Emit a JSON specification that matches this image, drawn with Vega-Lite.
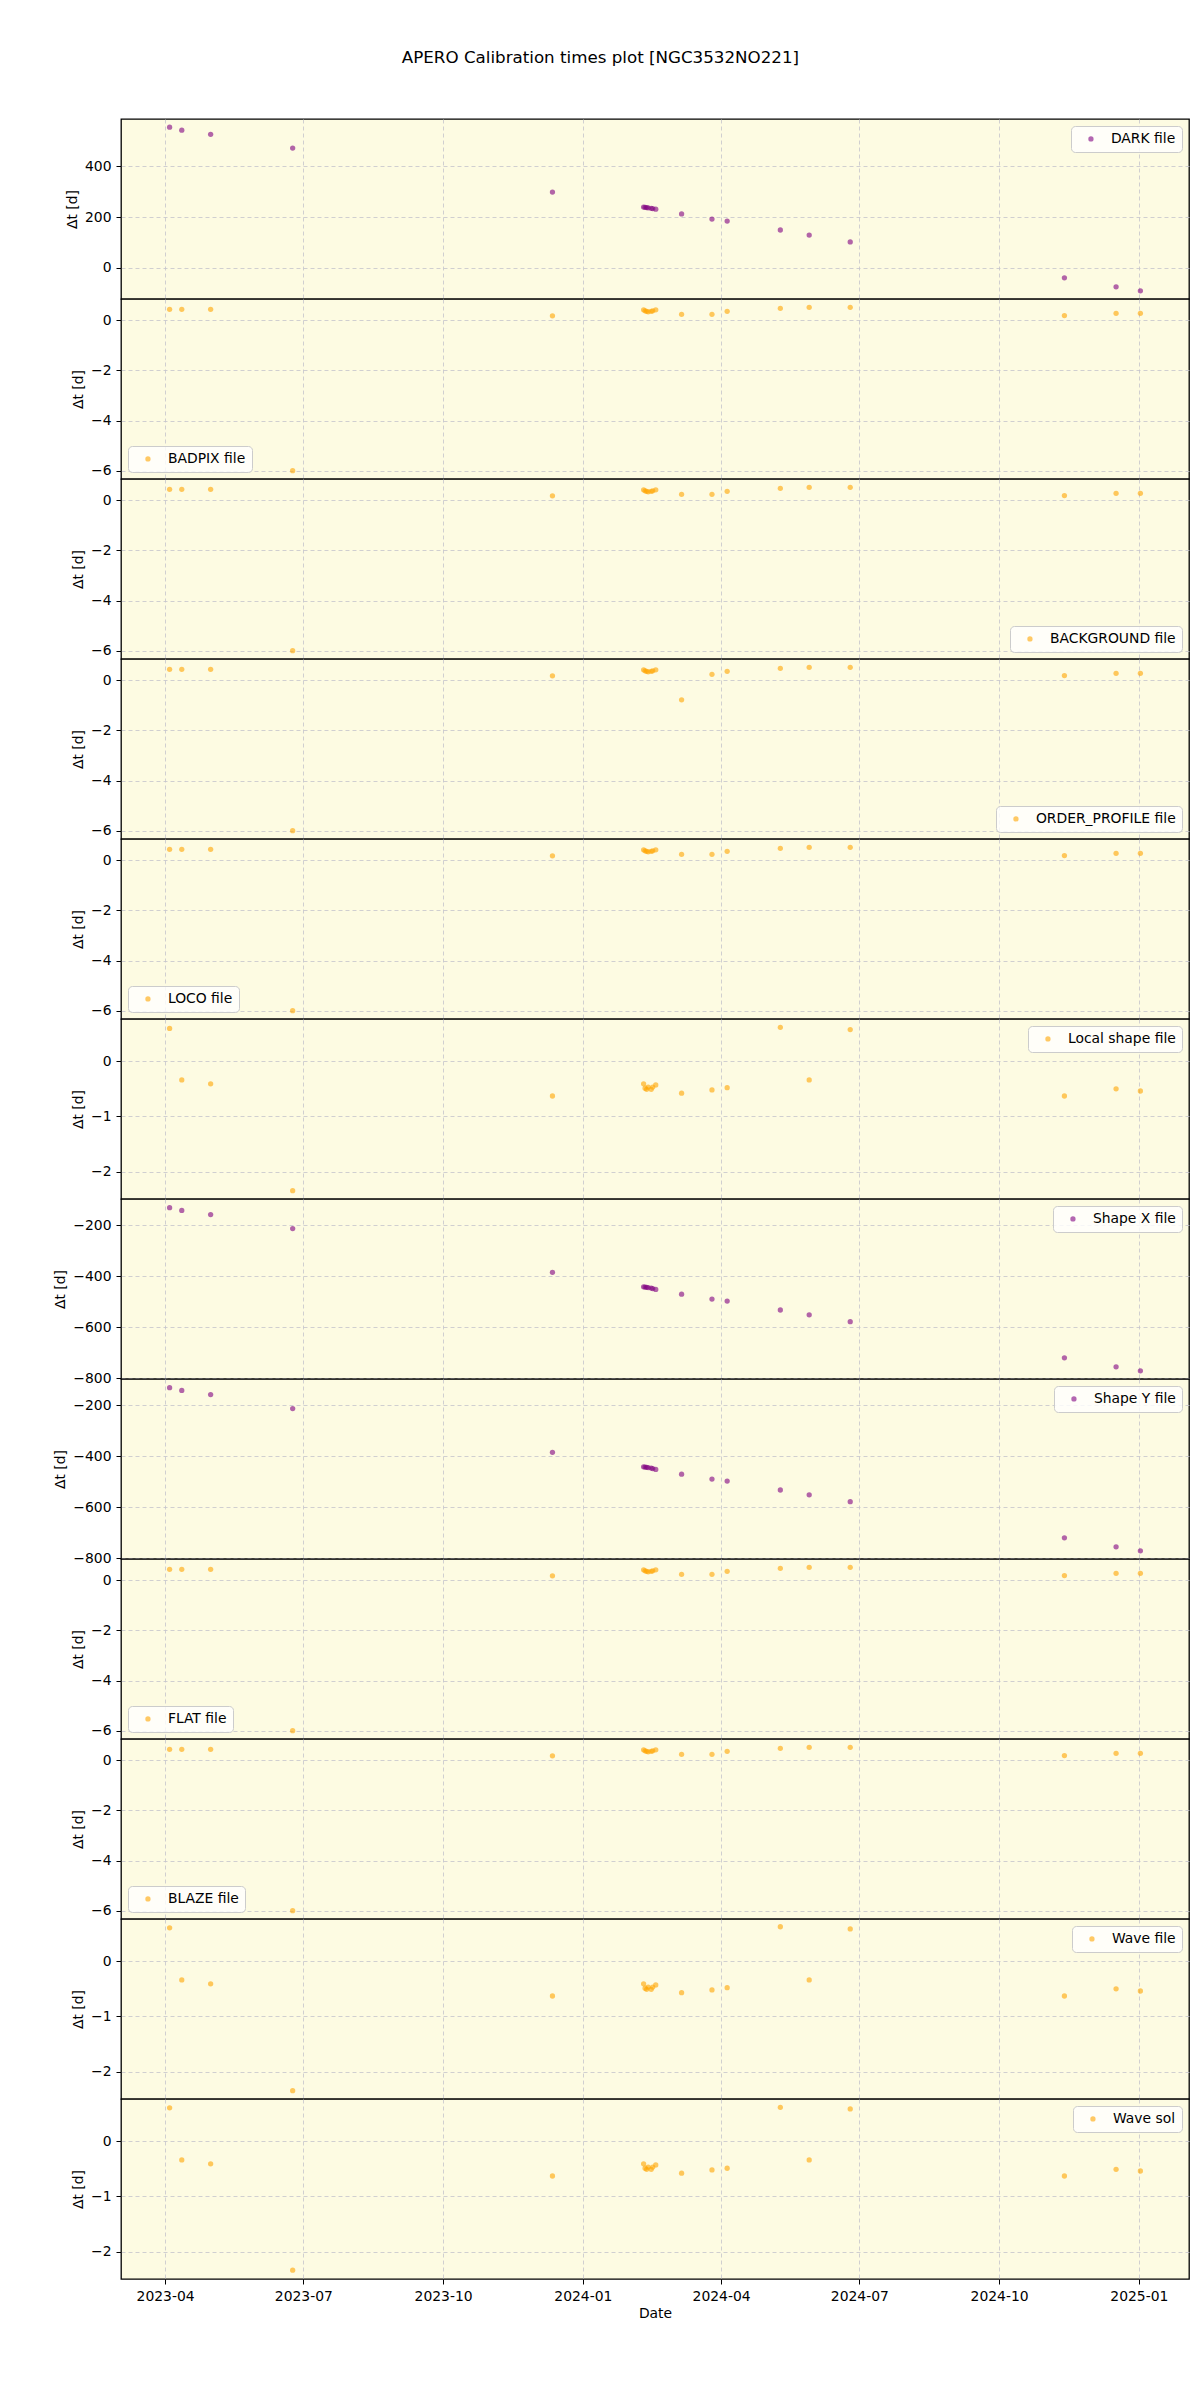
{
  "$schema": "https://vega.github.io/schema/vega-lite/v6.json",
  "background": "white",
  "padding": {"left": 53, "top": 49, "right": 0, "bottom": 0},
  "autosize": {"type": "pad"},
  "title": {"text": "APERO Calibration times plot [NGC3532NO221]", "fontSize": 16.7, "fontWeight": "normal", "font": "DejaVu Sans", "anchor": "middle", "offset": 52, "dx": -21, "color": "#000"},
  "data": {"values": [
    {"file": "DARK file", "date": "2023-04-04", "dt": 553},
    {"file": "DARK file", "date": "2023-04-12", "dt": 541},
    {"file": "DARK file", "date": "2023-05-01", "dt": 525},
    {"file": "DARK file", "date": "2023-06-24", "dt": 471},
    {"file": "DARK file", "date": "2023-12-12", "dt": 298},
    {"file": "DARK file", "date": "2024-02-10", "dt": 239},
    {"file": "DARK file", "date": "2024-02-11", "dt": 238},
    {"file": "DARK file", "date": "2024-02-12", "dt": 237},
    {"file": "DARK file", "date": "2024-02-13", "dt": 236},
    {"file": "DARK file", "date": "2024-02-15", "dt": 234},
    {"file": "DARK file", "date": "2024-02-16", "dt": 233},
    {"file": "DARK file", "date": "2024-02-18", "dt": 231},
    {"file": "DARK file", "date": "2024-03-06", "dt": 212},
    {"file": "DARK file", "date": "2024-03-26", "dt": 192},
    {"file": "DARK file", "date": "2024-04-05", "dt": 184},
    {"file": "DARK file", "date": "2024-05-10", "dt": 149},
    {"file": "DARK file", "date": "2024-05-29", "dt": 129},
    {"file": "DARK file", "date": "2024-06-25", "dt": 102},
    {"file": "DARK file", "date": "2024-11-13", "dt": -39},
    {"file": "DARK file", "date": "2024-12-17", "dt": -74},
    {"file": "DARK file", "date": "2025-01-02", "dt": -90},

    {"file": "BADPIX file", "date": "2023-04-04", "dt": 0.44},
    {"file": "BADPIX file", "date": "2023-04-12", "dt": 0.44},
    {"file": "BADPIX file", "date": "2023-05-01", "dt": 0.44},
    {"file": "BADPIX file", "date": "2023-06-24", "dt": -6.0},
    {"file": "BADPIX file", "date": "2023-12-12", "dt": 0.18},
    {"file": "BADPIX file", "date": "2024-02-10", "dt": 0.42},
    {"file": "BADPIX file", "date": "2024-02-11", "dt": 0.38},
    {"file": "BADPIX file", "date": "2024-02-12", "dt": 0.36},
    {"file": "BADPIX file", "date": "2024-02-13", "dt": 0.34},
    {"file": "BADPIX file", "date": "2024-02-15", "dt": 0.36},
    {"file": "BADPIX file", "date": "2024-02-16", "dt": 0.38},
    {"file": "BADPIX file", "date": "2024-02-18", "dt": 0.42},
    {"file": "BADPIX file", "date": "2024-03-06", "dt": 0.24},
    {"file": "BADPIX file", "date": "2024-03-26", "dt": 0.24},
    {"file": "BADPIX file", "date": "2024-04-05", "dt": 0.36},
    {"file": "BADPIX file", "date": "2024-05-10", "dt": 0.48},
    {"file": "BADPIX file", "date": "2024-05-29", "dt": 0.52},
    {"file": "BADPIX file", "date": "2024-06-25", "dt": 0.52},
    {"file": "BADPIX file", "date": "2024-11-13", "dt": 0.19},
    {"file": "BADPIX file", "date": "2024-12-17", "dt": 0.28},
    {"file": "BADPIX file", "date": "2025-01-02", "dt": 0.28},

    {"file": "BACKGROUND file", "date": "2023-04-04", "dt": 0.44},
    {"file": "BACKGROUND file", "date": "2023-04-12", "dt": 0.44},
    {"file": "BACKGROUND file", "date": "2023-05-01", "dt": 0.44},
    {"file": "BACKGROUND file", "date": "2023-06-24", "dt": -6.0},
    {"file": "BACKGROUND file", "date": "2023-12-12", "dt": 0.18},
    {"file": "BACKGROUND file", "date": "2024-02-10", "dt": 0.42},
    {"file": "BACKGROUND file", "date": "2024-02-11", "dt": 0.38},
    {"file": "BACKGROUND file", "date": "2024-02-12", "dt": 0.36},
    {"file": "BACKGROUND file", "date": "2024-02-13", "dt": 0.34},
    {"file": "BACKGROUND file", "date": "2024-02-15", "dt": 0.36},
    {"file": "BACKGROUND file", "date": "2024-02-16", "dt": 0.38},
    {"file": "BACKGROUND file", "date": "2024-02-18", "dt": 0.42},
    {"file": "BACKGROUND file", "date": "2024-03-06", "dt": 0.24},
    {"file": "BACKGROUND file", "date": "2024-03-26", "dt": 0.24},
    {"file": "BACKGROUND file", "date": "2024-04-05", "dt": 0.36},
    {"file": "BACKGROUND file", "date": "2024-05-10", "dt": 0.48},
    {"file": "BACKGROUND file", "date": "2024-05-29", "dt": 0.52},
    {"file": "BACKGROUND file", "date": "2024-06-25", "dt": 0.52},
    {"file": "BACKGROUND file", "date": "2024-11-13", "dt": 0.19},
    {"file": "BACKGROUND file", "date": "2024-12-17", "dt": 0.28},
    {"file": "BACKGROUND file", "date": "2025-01-02", "dt": 0.28},

    {"file": "ORDER_PROFILE file", "date": "2023-04-04", "dt": 0.44},
    {"file": "ORDER_PROFILE file", "date": "2023-04-12", "dt": 0.44},
    {"file": "ORDER_PROFILE file", "date": "2023-05-01", "dt": 0.44},
    {"file": "ORDER_PROFILE file", "date": "2023-06-24", "dt": -6.0},
    {"file": "ORDER_PROFILE file", "date": "2023-12-12", "dt": 0.18},
    {"file": "ORDER_PROFILE file", "date": "2024-02-10", "dt": 0.42},
    {"file": "ORDER_PROFILE file", "date": "2024-02-11", "dt": 0.38},
    {"file": "ORDER_PROFILE file", "date": "2024-02-12", "dt": 0.36},
    {"file": "ORDER_PROFILE file", "date": "2024-02-13", "dt": 0.34},
    {"file": "ORDER_PROFILE file", "date": "2024-02-15", "dt": 0.36},
    {"file": "ORDER_PROFILE file", "date": "2024-02-16", "dt": 0.38},
    {"file": "ORDER_PROFILE file", "date": "2024-02-18", "dt": 0.42},
    {"file": "ORDER_PROFILE file", "date": "2024-03-06", "dt": -0.78},
    {"file": "ORDER_PROFILE file", "date": "2024-03-26", "dt": 0.24},
    {"file": "ORDER_PROFILE file", "date": "2024-04-05", "dt": 0.36},
    {"file": "ORDER_PROFILE file", "date": "2024-05-10", "dt": 0.48},
    {"file": "ORDER_PROFILE file", "date": "2024-05-29", "dt": 0.52},
    {"file": "ORDER_PROFILE file", "date": "2024-06-25", "dt": 0.52},
    {"file": "ORDER_PROFILE file", "date": "2024-11-13", "dt": 0.19},
    {"file": "ORDER_PROFILE file", "date": "2024-12-17", "dt": 0.28},
    {"file": "ORDER_PROFILE file", "date": "2025-01-02", "dt": 0.28},

    {"file": "LOCO file", "date": "2023-04-04", "dt": 0.44},
    {"file": "LOCO file", "date": "2023-04-12", "dt": 0.44},
    {"file": "LOCO file", "date": "2023-05-01", "dt": 0.44},
    {"file": "LOCO file", "date": "2023-06-24", "dt": -6.0},
    {"file": "LOCO file", "date": "2023-12-12", "dt": 0.18},
    {"file": "LOCO file", "date": "2024-02-10", "dt": 0.42},
    {"file": "LOCO file", "date": "2024-02-11", "dt": 0.38},
    {"file": "LOCO file", "date": "2024-02-12", "dt": 0.36},
    {"file": "LOCO file", "date": "2024-02-13", "dt": 0.34},
    {"file": "LOCO file", "date": "2024-02-15", "dt": 0.36},
    {"file": "LOCO file", "date": "2024-02-16", "dt": 0.38},
    {"file": "LOCO file", "date": "2024-02-18", "dt": 0.42},
    {"file": "LOCO file", "date": "2024-03-06", "dt": 0.24},
    {"file": "LOCO file", "date": "2024-03-26", "dt": 0.24},
    {"file": "LOCO file", "date": "2024-04-05", "dt": 0.36},
    {"file": "LOCO file", "date": "2024-05-10", "dt": 0.48},
    {"file": "LOCO file", "date": "2024-05-29", "dt": 0.52},
    {"file": "LOCO file", "date": "2024-06-25", "dt": 0.52},
    {"file": "LOCO file", "date": "2024-11-13", "dt": 0.19},
    {"file": "LOCO file", "date": "2024-12-17", "dt": 0.28},
    {"file": "LOCO file", "date": "2025-01-02", "dt": 0.28},

    {"file": "Local shape file", "date": "2023-04-04", "dt": 0.59},
    {"file": "Local shape file", "date": "2023-04-12", "dt": -0.34},
    {"file": "Local shape file", "date": "2023-05-01", "dt": -0.41},
    {"file": "Local shape file", "date": "2023-06-24", "dt": -2.34},
    {"file": "Local shape file", "date": "2023-12-12", "dt": -0.63},
    {"file": "Local shape file", "date": "2024-02-10", "dt": -0.41},
    {"file": "Local shape file", "date": "2024-02-11", "dt": -0.49},
    {"file": "Local shape file", "date": "2024-02-12", "dt": -0.51},
    {"file": "Local shape file", "date": "2024-02-13", "dt": -0.47},
    {"file": "Local shape file", "date": "2024-02-15", "dt": -0.51},
    {"file": "Local shape file", "date": "2024-02-16", "dt": -0.47},
    {"file": "Local shape file", "date": "2024-02-18", "dt": -0.43},
    {"file": "Local shape file", "date": "2024-03-06", "dt": -0.58},
    {"file": "Local shape file", "date": "2024-03-26", "dt": -0.52},
    {"file": "Local shape file", "date": "2024-04-05", "dt": -0.48},
    {"file": "Local shape file", "date": "2024-05-10", "dt": 0.61},
    {"file": "Local shape file", "date": "2024-05-29", "dt": -0.34},
    {"file": "Local shape file", "date": "2024-06-25", "dt": 0.57},
    {"file": "Local shape file", "date": "2024-11-13", "dt": -0.63},
    {"file": "Local shape file", "date": "2024-12-17", "dt": -0.50},
    {"file": "Local shape file", "date": "2025-01-02", "dt": -0.54},

    {"file": "Shape X file", "date": "2023-04-04", "dt": -130},
    {"file": "Shape X file", "date": "2023-04-12", "dt": -141},
    {"file": "Shape X file", "date": "2023-05-01", "dt": -157},
    {"file": "Shape X file", "date": "2023-06-24", "dt": -212},
    {"file": "Shape X file", "date": "2023-12-12", "dt": -384},
    {"file": "Shape X file", "date": "2024-02-10", "dt": -441},
    {"file": "Shape X file", "date": "2024-02-11", "dt": -442},
    {"file": "Shape X file", "date": "2024-02-12", "dt": -443},
    {"file": "Shape X file", "date": "2024-02-13", "dt": -444},
    {"file": "Shape X file", "date": "2024-02-15", "dt": -446},
    {"file": "Shape X file", "date": "2024-02-16", "dt": -448},
    {"file": "Shape X file", "date": "2024-02-18", "dt": -451},
    {"file": "Shape X file", "date": "2024-03-06", "dt": -470},
    {"file": "Shape X file", "date": "2024-03-26", "dt": -489},
    {"file": "Shape X file", "date": "2024-04-05", "dt": -497},
    {"file": "Shape X file", "date": "2024-05-10", "dt": -532},
    {"file": "Shape X file", "date": "2024-05-29", "dt": -551},
    {"file": "Shape X file", "date": "2024-06-25", "dt": -578},
    {"file": "Shape X file", "date": "2024-11-13", "dt": -720},
    {"file": "Shape X file", "date": "2024-12-17", "dt": -755},
    {"file": "Shape X file", "date": "2025-01-02", "dt": -771},

    {"file": "Shape Y file", "date": "2023-04-04", "dt": -130},
    {"file": "Shape Y file", "date": "2023-04-12", "dt": -141},
    {"file": "Shape Y file", "date": "2023-05-01", "dt": -157},
    {"file": "Shape Y file", "date": "2023-06-24", "dt": -212},
    {"file": "Shape Y file", "date": "2023-12-12", "dt": -384},
    {"file": "Shape Y file", "date": "2024-02-10", "dt": -441},
    {"file": "Shape Y file", "date": "2024-02-11", "dt": -442},
    {"file": "Shape Y file", "date": "2024-02-12", "dt": -443},
    {"file": "Shape Y file", "date": "2024-02-13", "dt": -444},
    {"file": "Shape Y file", "date": "2024-02-15", "dt": -446},
    {"file": "Shape Y file", "date": "2024-02-16", "dt": -448},
    {"file": "Shape Y file", "date": "2024-02-18", "dt": -451},
    {"file": "Shape Y file", "date": "2024-03-06", "dt": -470},
    {"file": "Shape Y file", "date": "2024-03-26", "dt": -489},
    {"file": "Shape Y file", "date": "2024-04-05", "dt": -497},
    {"file": "Shape Y file", "date": "2024-05-10", "dt": -532},
    {"file": "Shape Y file", "date": "2024-05-29", "dt": -551},
    {"file": "Shape Y file", "date": "2024-06-25", "dt": -578},
    {"file": "Shape Y file", "date": "2024-11-13", "dt": -720},
    {"file": "Shape Y file", "date": "2024-12-17", "dt": -755},
    {"file": "Shape Y file", "date": "2025-01-02", "dt": -771},

    {"file": "FLAT file", "date": "2023-04-04", "dt": 0.44},
    {"file": "FLAT file", "date": "2023-04-12", "dt": 0.44},
    {"file": "FLAT file", "date": "2023-05-01", "dt": 0.44},
    {"file": "FLAT file", "date": "2023-06-24", "dt": -6.0},
    {"file": "FLAT file", "date": "2023-12-12", "dt": 0.18},
    {"file": "FLAT file", "date": "2024-02-10", "dt": 0.42},
    {"file": "FLAT file", "date": "2024-02-11", "dt": 0.38},
    {"file": "FLAT file", "date": "2024-02-12", "dt": 0.36},
    {"file": "FLAT file", "date": "2024-02-13", "dt": 0.34},
    {"file": "FLAT file", "date": "2024-02-15", "dt": 0.36},
    {"file": "FLAT file", "date": "2024-02-16", "dt": 0.38},
    {"file": "FLAT file", "date": "2024-02-18", "dt": 0.42},
    {"file": "FLAT file", "date": "2024-03-06", "dt": 0.24},
    {"file": "FLAT file", "date": "2024-03-26", "dt": 0.24},
    {"file": "FLAT file", "date": "2024-04-05", "dt": 0.36},
    {"file": "FLAT file", "date": "2024-05-10", "dt": 0.48},
    {"file": "FLAT file", "date": "2024-05-29", "dt": 0.52},
    {"file": "FLAT file", "date": "2024-06-25", "dt": 0.52},
    {"file": "FLAT file", "date": "2024-11-13", "dt": 0.19},
    {"file": "FLAT file", "date": "2024-12-17", "dt": 0.28},
    {"file": "FLAT file", "date": "2025-01-02", "dt": 0.28},

    {"file": "BLAZE file", "date": "2023-04-04", "dt": 0.44},
    {"file": "BLAZE file", "date": "2023-04-12", "dt": 0.44},
    {"file": "BLAZE file", "date": "2023-05-01", "dt": 0.44},
    {"file": "BLAZE file", "date": "2023-06-24", "dt": -6.0},
    {"file": "BLAZE file", "date": "2023-12-12", "dt": 0.18},
    {"file": "BLAZE file", "date": "2024-02-10", "dt": 0.42},
    {"file": "BLAZE file", "date": "2024-02-11", "dt": 0.38},
    {"file": "BLAZE file", "date": "2024-02-12", "dt": 0.36},
    {"file": "BLAZE file", "date": "2024-02-13", "dt": 0.34},
    {"file": "BLAZE file", "date": "2024-02-15", "dt": 0.36},
    {"file": "BLAZE file", "date": "2024-02-16", "dt": 0.38},
    {"file": "BLAZE file", "date": "2024-02-18", "dt": 0.42},
    {"file": "BLAZE file", "date": "2024-03-06", "dt": 0.24},
    {"file": "BLAZE file", "date": "2024-03-26", "dt": 0.24},
    {"file": "BLAZE file", "date": "2024-04-05", "dt": 0.36},
    {"file": "BLAZE file", "date": "2024-05-10", "dt": 0.48},
    {"file": "BLAZE file", "date": "2024-05-29", "dt": 0.52},
    {"file": "BLAZE file", "date": "2024-06-25", "dt": 0.52},
    {"file": "BLAZE file", "date": "2024-11-13", "dt": 0.19},
    {"file": "BLAZE file", "date": "2024-12-17", "dt": 0.28},
    {"file": "BLAZE file", "date": "2025-01-02", "dt": 0.28},

    {"file": "Wave file", "date": "2023-04-04", "dt": 0.60},
    {"file": "Wave file", "date": "2023-04-12", "dt": -0.34},
    {"file": "Wave file", "date": "2023-05-01", "dt": -0.41},
    {"file": "Wave file", "date": "2023-06-24", "dt": -2.34},
    {"file": "Wave file", "date": "2023-12-12", "dt": -0.63},
    {"file": "Wave file", "date": "2024-02-10", "dt": -0.41},
    {"file": "Wave file", "date": "2024-02-11", "dt": -0.49},
    {"file": "Wave file", "date": "2024-02-12", "dt": -0.51},
    {"file": "Wave file", "date": "2024-02-13", "dt": -0.47},
    {"file": "Wave file", "date": "2024-02-15", "dt": -0.51},
    {"file": "Wave file", "date": "2024-02-16", "dt": -0.47},
    {"file": "Wave file", "date": "2024-02-18", "dt": -0.43},
    {"file": "Wave file", "date": "2024-03-06", "dt": -0.57},
    {"file": "Wave file", "date": "2024-03-26", "dt": -0.52},
    {"file": "Wave file", "date": "2024-04-05", "dt": -0.48},
    {"file": "Wave file", "date": "2024-05-10", "dt": 0.62},
    {"file": "Wave file", "date": "2024-05-29", "dt": -0.34},
    {"file": "Wave file", "date": "2024-06-25", "dt": 0.58},
    {"file": "Wave file", "date": "2024-11-13", "dt": -0.63},
    {"file": "Wave file", "date": "2024-12-17", "dt": -0.50},
    {"file": "Wave file", "date": "2025-01-02", "dt": -0.54},

    {"file": "Wave sol", "date": "2023-04-04", "dt": 0.60},
    {"file": "Wave sol", "date": "2023-04-12", "dt": -0.34},
    {"file": "Wave sol", "date": "2023-05-01", "dt": -0.41},
    {"file": "Wave sol", "date": "2023-06-24", "dt": -2.33},
    {"file": "Wave sol", "date": "2023-12-12", "dt": -0.63},
    {"file": "Wave sol", "date": "2024-02-10", "dt": -0.41},
    {"file": "Wave sol", "date": "2024-02-11", "dt": -0.49},
    {"file": "Wave sol", "date": "2024-02-12", "dt": -0.51},
    {"file": "Wave sol", "date": "2024-02-13", "dt": -0.47},
    {"file": "Wave sol", "date": "2024-02-15", "dt": -0.51},
    {"file": "Wave sol", "date": "2024-02-16", "dt": -0.47},
    {"file": "Wave sol", "date": "2024-02-18", "dt": -0.43},
    {"file": "Wave sol", "date": "2024-03-06", "dt": -0.58},
    {"file": "Wave sol", "date": "2024-03-26", "dt": -0.52},
    {"file": "Wave sol", "date": "2024-04-05", "dt": -0.49},
    {"file": "Wave sol", "date": "2024-05-10", "dt": 0.61},
    {"file": "Wave sol", "date": "2024-05-29", "dt": -0.34},
    {"file": "Wave sol", "date": "2024-06-25", "dt": 0.58},
    {"file": "Wave sol", "date": "2024-11-13", "dt": -0.63},
    {"file": "Wave sol", "date": "2024-12-17", "dt": -0.51},
    {"file": "Wave sol", "date": "2025-01-02", "dt": -0.54}
  ]},
  "spacing": 0,
  "bounds": "flush",
  "resolve": {"scale": {"x": "independent", "y": "independent", "color": "independent"}, "legend": {"color": "independent"}},
  "vconcat": [
    {"width": 1068, "height": 180,
     "transform": [{"filter": {"field": "file", "equal": "DARK file"}}],
     "mark": {"type": "point", "filled": true, "size": 28, "opacity": 0.6},
     "encoding": {
       "x": {"field": "date", "type": "temporal", "scale": {"type": "utc", "domain": [{"year": 2023, "month": 3, "date": 3, "utc": true}, {"year": 2025, "month": 2, "date": 3, "utc": true}]},
             "axis": {"values": [{"year": 2023, "month": 4, "date": 1, "utc": true}, {"year": 2023, "month": 7, "date": 1, "utc": true}, {"year": 2023, "month": 10, "date": 1, "utc": true}, {"year": 2024, "month": 1, "date": 1, "utc": true}, {"year": 2024, "month": 4, "date": 1, "utc": true}, {"year": 2024, "month": 7, "date": 1, "utc": true}, {"year": 2024, "month": 10, "date": 1, "utc": true}, {"year": 2025, "month": 1, "date": 1, "utc": true}], "labels": false, "ticks": false, "title": null, "tickSize": 0, "labelPadding": 0, "minExtent": 0, "maxExtent": 0}},
       "y": {"field": "dt", "type": "quantitative", "scale": {"domain": [-122, 585], "nice": false, "zero": false}, "axis": {"title": "Δt [d]", "values": [0, 200, 400]}},
       "color": {"field": "file", "type": "nominal", "scale": {"range": ["purple"]}, "legend": {"orient": "top-right", "title": null}}
     }},
    {"width": 1068, "height": 180,
     "transform": [{"filter": {"field": "file", "equal": "BADPIX file"}}],
     "mark": {"type": "point", "filled": true, "size": 28, "opacity": 0.6},
     "encoding": {
       "x": {"field": "date", "type": "temporal", "scale": {"type": "utc", "domain": [{"year": 2023, "month": 3, "date": 3, "utc": true}, {"year": 2025, "month": 2, "date": 3, "utc": true}]},
             "axis": {"values": [{"year": 2023, "month": 4, "date": 1, "utc": true}, {"year": 2023, "month": 7, "date": 1, "utc": true}, {"year": 2023, "month": 10, "date": 1, "utc": true}, {"year": 2024, "month": 1, "date": 1, "utc": true}, {"year": 2024, "month": 4, "date": 1, "utc": true}, {"year": 2024, "month": 7, "date": 1, "utc": true}, {"year": 2024, "month": 10, "date": 1, "utc": true}, {"year": 2025, "month": 1, "date": 1, "utc": true}], "labels": false, "ticks": false, "title": null, "tickSize": 0, "labelPadding": 0, "minExtent": 0, "maxExtent": 0}},
       "y": {"field": "dt", "type": "quantitative", "scale": {"domain": [-6.33, 0.85], "nice": false, "zero": false}, "axis": {"title": "Δt [d]", "values": [-6, -4, -2, 0]}},
       "color": {"field": "file", "type": "nominal", "scale": {"range": ["orange"]}, "legend": {"orient": "bottom-left", "title": null}}
     }},
    {"width": 1068, "height": 180,
     "transform": [{"filter": {"field": "file", "equal": "BACKGROUND file"}}],
     "mark": {"type": "point", "filled": true, "size": 28, "opacity": 0.6},
     "encoding": {
       "x": {"field": "date", "type": "temporal", "scale": {"type": "utc", "domain": [{"year": 2023, "month": 3, "date": 3, "utc": true}, {"year": 2025, "month": 2, "date": 3, "utc": true}]},
             "axis": {"values": [{"year": 2023, "month": 4, "date": 1, "utc": true}, {"year": 2023, "month": 7, "date": 1, "utc": true}, {"year": 2023, "month": 10, "date": 1, "utc": true}, {"year": 2024, "month": 1, "date": 1, "utc": true}, {"year": 2024, "month": 4, "date": 1, "utc": true}, {"year": 2024, "month": 7, "date": 1, "utc": true}, {"year": 2024, "month": 10, "date": 1, "utc": true}, {"year": 2025, "month": 1, "date": 1, "utc": true}], "labels": false, "ticks": false, "title": null, "tickSize": 0, "labelPadding": 0, "minExtent": 0, "maxExtent": 0}},
       "y": {"field": "dt", "type": "quantitative", "scale": {"domain": [-6.33, 0.85], "nice": false, "zero": false}, "axis": {"title": "Δt [d]", "values": [-6, -4, -2, 0]}},
       "color": {"field": "file", "type": "nominal", "scale": {"range": ["orange"]}, "legend": {"orient": "bottom-right", "title": null}}
     }},
    {"width": 1068, "height": 180,
     "transform": [{"filter": {"field": "file", "equal": "ORDER_PROFILE file"}}],
     "mark": {"type": "point", "filled": true, "size": 28, "opacity": 0.6},
     "encoding": {
       "x": {"field": "date", "type": "temporal", "scale": {"type": "utc", "domain": [{"year": 2023, "month": 3, "date": 3, "utc": true}, {"year": 2025, "month": 2, "date": 3, "utc": true}]},
             "axis": {"values": [{"year": 2023, "month": 4, "date": 1, "utc": true}, {"year": 2023, "month": 7, "date": 1, "utc": true}, {"year": 2023, "month": 10, "date": 1, "utc": true}, {"year": 2024, "month": 1, "date": 1, "utc": true}, {"year": 2024, "month": 4, "date": 1, "utc": true}, {"year": 2024, "month": 7, "date": 1, "utc": true}, {"year": 2024, "month": 10, "date": 1, "utc": true}, {"year": 2025, "month": 1, "date": 1, "utc": true}], "labels": false, "ticks": false, "title": null, "tickSize": 0, "labelPadding": 0, "minExtent": 0, "maxExtent": 0}},
       "y": {"field": "dt", "type": "quantitative", "scale": {"domain": [-6.33, 0.85], "nice": false, "zero": false}, "axis": {"title": "Δt [d]", "values": [-6, -4, -2, 0]}},
       "color": {"field": "file", "type": "nominal", "scale": {"range": ["orange"]}, "legend": {"orient": "bottom-right", "title": null}}
     }},
    {"width": 1068, "height": 180,
     "transform": [{"filter": {"field": "file", "equal": "LOCO file"}}],
     "mark": {"type": "point", "filled": true, "size": 28, "opacity": 0.6},
     "encoding": {
       "x": {"field": "date", "type": "temporal", "scale": {"type": "utc", "domain": [{"year": 2023, "month": 3, "date": 3, "utc": true}, {"year": 2025, "month": 2, "date": 3, "utc": true}]},
             "axis": {"values": [{"year": 2023, "month": 4, "date": 1, "utc": true}, {"year": 2023, "month": 7, "date": 1, "utc": true}, {"year": 2023, "month": 10, "date": 1, "utc": true}, {"year": 2024, "month": 1, "date": 1, "utc": true}, {"year": 2024, "month": 4, "date": 1, "utc": true}, {"year": 2024, "month": 7, "date": 1, "utc": true}, {"year": 2024, "month": 10, "date": 1, "utc": true}, {"year": 2025, "month": 1, "date": 1, "utc": true}], "labels": false, "ticks": false, "title": null, "tickSize": 0, "labelPadding": 0, "minExtent": 0, "maxExtent": 0}},
       "y": {"field": "dt", "type": "quantitative", "scale": {"domain": [-6.33, 0.85], "nice": false, "zero": false}, "axis": {"title": "Δt [d]", "values": [-6, -4, -2, 0]}},
       "color": {"field": "file", "type": "nominal", "scale": {"range": ["orange"]}, "legend": {"orient": "bottom-left", "title": null}}
     }},
    {"width": 1068, "height": 180,
     "transform": [{"filter": {"field": "file", "equal": "Local shape file"}}],
     "mark": {"type": "point", "filled": true, "size": 28, "opacity": 0.6},
     "encoding": {
       "x": {"field": "date", "type": "temporal", "scale": {"type": "utc", "domain": [{"year": 2023, "month": 3, "date": 3, "utc": true}, {"year": 2025, "month": 2, "date": 3, "utc": true}]},
             "axis": {"values": [{"year": 2023, "month": 4, "date": 1, "utc": true}, {"year": 2023, "month": 7, "date": 1, "utc": true}, {"year": 2023, "month": 10, "date": 1, "utc": true}, {"year": 2024, "month": 1, "date": 1, "utc": true}, {"year": 2024, "month": 4, "date": 1, "utc": true}, {"year": 2024, "month": 7, "date": 1, "utc": true}, {"year": 2024, "month": 10, "date": 1, "utc": true}, {"year": 2025, "month": 1, "date": 1, "utc": true}], "labels": false, "ticks": false, "title": null, "tickSize": 0, "labelPadding": 0, "minExtent": 0, "maxExtent": 0}},
       "y": {"field": "dt", "type": "quantitative", "scale": {"domain": [-2.49, 0.76], "nice": false, "zero": false}, "axis": {"title": "Δt [d]", "values": [-2, -1, 0]}},
       "color": {"field": "file", "type": "nominal", "scale": {"range": ["orange"]}, "legend": {"orient": "top-right", "title": null}}
     }},
    {"width": 1068, "height": 180,
     "transform": [{"filter": {"field": "file", "equal": "Shape X file"}}],
     "mark": {"type": "point", "filled": true, "size": 28, "opacity": 0.6},
     "encoding": {
       "x": {"field": "date", "type": "temporal", "scale": {"type": "utc", "domain": [{"year": 2023, "month": 3, "date": 3, "utc": true}, {"year": 2025, "month": 2, "date": 3, "utc": true}]},
             "axis": {"values": [{"year": 2023, "month": 4, "date": 1, "utc": true}, {"year": 2023, "month": 7, "date": 1, "utc": true}, {"year": 2023, "month": 10, "date": 1, "utc": true}, {"year": 2024, "month": 1, "date": 1, "utc": true}, {"year": 2024, "month": 4, "date": 1, "utc": true}, {"year": 2024, "month": 7, "date": 1, "utc": true}, {"year": 2024, "month": 10, "date": 1, "utc": true}, {"year": 2025, "month": 1, "date": 1, "utc": true}], "labels": false, "ticks": false, "title": null, "tickSize": 0, "labelPadding": 0, "minExtent": 0, "maxExtent": 0}},
       "y": {"field": "dt", "type": "quantitative", "scale": {"domain": [-803, -96], "nice": false, "zero": false}, "axis": {"title": "Δt [d]", "values": [-800, -600, -400, -200]}},
       "color": {"field": "file", "type": "nominal", "scale": {"range": ["purple"]}, "legend": {"orient": "top-right", "title": null}}
     }},
    {"width": 1068, "height": 180,
     "transform": [{"filter": {"field": "file", "equal": "Shape Y file"}}],
     "mark": {"type": "point", "filled": true, "size": 28, "opacity": 0.6},
     "encoding": {
       "x": {"field": "date", "type": "temporal", "scale": {"type": "utc", "domain": [{"year": 2023, "month": 3, "date": 3, "utc": true}, {"year": 2025, "month": 2, "date": 3, "utc": true}]},
             "axis": {"values": [{"year": 2023, "month": 4, "date": 1, "utc": true}, {"year": 2023, "month": 7, "date": 1, "utc": true}, {"year": 2023, "month": 10, "date": 1, "utc": true}, {"year": 2024, "month": 1, "date": 1, "utc": true}, {"year": 2024, "month": 4, "date": 1, "utc": true}, {"year": 2024, "month": 7, "date": 1, "utc": true}, {"year": 2024, "month": 10, "date": 1, "utc": true}, {"year": 2025, "month": 1, "date": 1, "utc": true}], "labels": false, "ticks": false, "title": null, "tickSize": 0, "labelPadding": 0, "minExtent": 0, "maxExtent": 0}},
       "y": {"field": "dt", "type": "quantitative", "scale": {"domain": [-803, -96], "nice": false, "zero": false}, "axis": {"title": "Δt [d]", "values": [-800, -600, -400, -200]}},
       "color": {"field": "file", "type": "nominal", "scale": {"range": ["purple"]}, "legend": {"orient": "top-right", "title": null}}
     }},
    {"width": 1068, "height": 180,
     "transform": [{"filter": {"field": "file", "equal": "FLAT file"}}],
     "mark": {"type": "point", "filled": true, "size": 28, "opacity": 0.6},
     "encoding": {
       "x": {"field": "date", "type": "temporal", "scale": {"type": "utc", "domain": [{"year": 2023, "month": 3, "date": 3, "utc": true}, {"year": 2025, "month": 2, "date": 3, "utc": true}]},
             "axis": {"values": [{"year": 2023, "month": 4, "date": 1, "utc": true}, {"year": 2023, "month": 7, "date": 1, "utc": true}, {"year": 2023, "month": 10, "date": 1, "utc": true}, {"year": 2024, "month": 1, "date": 1, "utc": true}, {"year": 2024, "month": 4, "date": 1, "utc": true}, {"year": 2024, "month": 7, "date": 1, "utc": true}, {"year": 2024, "month": 10, "date": 1, "utc": true}, {"year": 2025, "month": 1, "date": 1, "utc": true}], "labels": false, "ticks": false, "title": null, "tickSize": 0, "labelPadding": 0, "minExtent": 0, "maxExtent": 0}},
       "y": {"field": "dt", "type": "quantitative", "scale": {"domain": [-6.33, 0.85], "nice": false, "zero": false}, "axis": {"title": "Δt [d]", "values": [-6, -4, -2, 0]}},
       "color": {"field": "file", "type": "nominal", "scale": {"range": ["orange"]}, "legend": {"orient": "bottom-left", "title": null}}
     }},
    {"width": 1068, "height": 180,
     "transform": [{"filter": {"field": "file", "equal": "BLAZE file"}}],
     "mark": {"type": "point", "filled": true, "size": 28, "opacity": 0.6},
     "encoding": {
       "x": {"field": "date", "type": "temporal", "scale": {"type": "utc", "domain": [{"year": 2023, "month": 3, "date": 3, "utc": true}, {"year": 2025, "month": 2, "date": 3, "utc": true}]},
             "axis": {"values": [{"year": 2023, "month": 4, "date": 1, "utc": true}, {"year": 2023, "month": 7, "date": 1, "utc": true}, {"year": 2023, "month": 10, "date": 1, "utc": true}, {"year": 2024, "month": 1, "date": 1, "utc": true}, {"year": 2024, "month": 4, "date": 1, "utc": true}, {"year": 2024, "month": 7, "date": 1, "utc": true}, {"year": 2024, "month": 10, "date": 1, "utc": true}, {"year": 2025, "month": 1, "date": 1, "utc": true}], "labels": false, "ticks": false, "title": null, "tickSize": 0, "labelPadding": 0, "minExtent": 0, "maxExtent": 0}},
       "y": {"field": "dt", "type": "quantitative", "scale": {"domain": [-6.33, 0.85], "nice": false, "zero": false}, "axis": {"title": "Δt [d]", "values": [-6, -4, -2, 0]}},
       "color": {"field": "file", "type": "nominal", "scale": {"range": ["orange"]}, "legend": {"orient": "bottom-left", "title": null}}
     }},
    {"width": 1068, "height": 180,
     "transform": [{"filter": {"field": "file", "equal": "Wave file"}}],
     "mark": {"type": "point", "filled": true, "size": 28, "opacity": 0.6},
     "encoding": {
       "x": {"field": "date", "type": "temporal", "scale": {"type": "utc", "domain": [{"year": 2023, "month": 3, "date": 3, "utc": true}, {"year": 2025, "month": 2, "date": 3, "utc": true}]},
             "axis": {"values": [{"year": 2023, "month": 4, "date": 1, "utc": true}, {"year": 2023, "month": 7, "date": 1, "utc": true}, {"year": 2023, "month": 10, "date": 1, "utc": true}, {"year": 2024, "month": 1, "date": 1, "utc": true}, {"year": 2024, "month": 4, "date": 1, "utc": true}, {"year": 2024, "month": 7, "date": 1, "utc": true}, {"year": 2024, "month": 10, "date": 1, "utc": true}, {"year": 2025, "month": 1, "date": 1, "utc": true}], "labels": false, "ticks": false, "title": null, "tickSize": 0, "labelPadding": 0, "minExtent": 0, "maxExtent": 0}},
       "y": {"field": "dt", "type": "quantitative", "scale": {"domain": [-2.49, 0.76], "nice": false, "zero": false}, "axis": {"title": "Δt [d]", "values": [-2, -1, 0]}},
       "color": {"field": "file", "type": "nominal", "scale": {"range": ["orange"]}, "legend": {"orient": "top-right", "title": null}}
     }},
    {"width": 1068, "height": 180,
     "transform": [{"filter": {"field": "file", "equal": "Wave sol"}}],
     "mark": {"type": "point", "filled": true, "size": 28, "opacity": 0.6},
     "encoding": {
       "x": {"field": "date", "type": "temporal", "scale": {"type": "utc", "domain": [{"year": 2023, "month": 3, "date": 3, "utc": true}, {"year": 2025, "month": 2, "date": 3, "utc": true}]},
             "axis": {"values": [{"year": 2023, "month": 4, "date": 1, "utc": true}, {"year": 2023, "month": 7, "date": 1, "utc": true}, {"year": 2023, "month": 10, "date": 1, "utc": true}, {"year": 2024, "month": 1, "date": 1, "utc": true}, {"year": 2024, "month": 4, "date": 1, "utc": true}, {"year": 2024, "month": 7, "date": 1, "utc": true}, {"year": 2024, "month": 10, "date": 1, "utc": true}, {"year": 2025, "month": 1, "date": 1, "utc": true}], "format": "%Y-%m", "title": "Date", "labelAngle": 0, "titlePadding": 4}},
       "y": {"field": "dt", "type": "quantitative", "scale": {"domain": [-2.49, 0.76], "nice": false, "zero": false}, "axis": {"title": "Δt [d]", "values": [-2, -1, 0]}},
       "color": {"field": "file", "type": "nominal", "scale": {"range": ["orange"]}, "legend": {"orient": "top-right", "title": null}}
     }}
  ],
  "config": {
    "font": "DejaVu Sans",
    "view": {"stroke": "#000000", "strokeWidth": 1.3, "fill": "#fdfbe2"},
    "axis": {"labelFont": "DejaVu Sans", "labelFontSize": 13.9, "labelColor": "#000000", "tickColor": "#000000", "tickSize": 5, "tickWidth": 1, "labelPadding": 5, "domain": false, "grid": true, "gridColor": "#c4c4cc", "gridDash": [4, 3], "gridWidth": 0.8, "titleFont": "DejaVu Sans", "titleFontSize": 13.9, "titleFontWeight": "normal", "titleColor": "#000000", "titlePadding": 5, "labelFlush": false, "labelOverlap": false},
    "legend": {"fillColor": "rgba(255,255,255,0.8)", "strokeColor": "#cccccc", "cornerRadius": 4, "padding": 6, "labelFont": "DejaVu Sans", "labelFontSize": 13.9, "labelColor": "#000000", "symbolSize": 28, "symbolOpacity": 0.6, "symbolStrokeWidth": 0, "symbolType": "circle", "offset": 7, "symbolOffset": 7, "labelOffset": 13}
  }
}
